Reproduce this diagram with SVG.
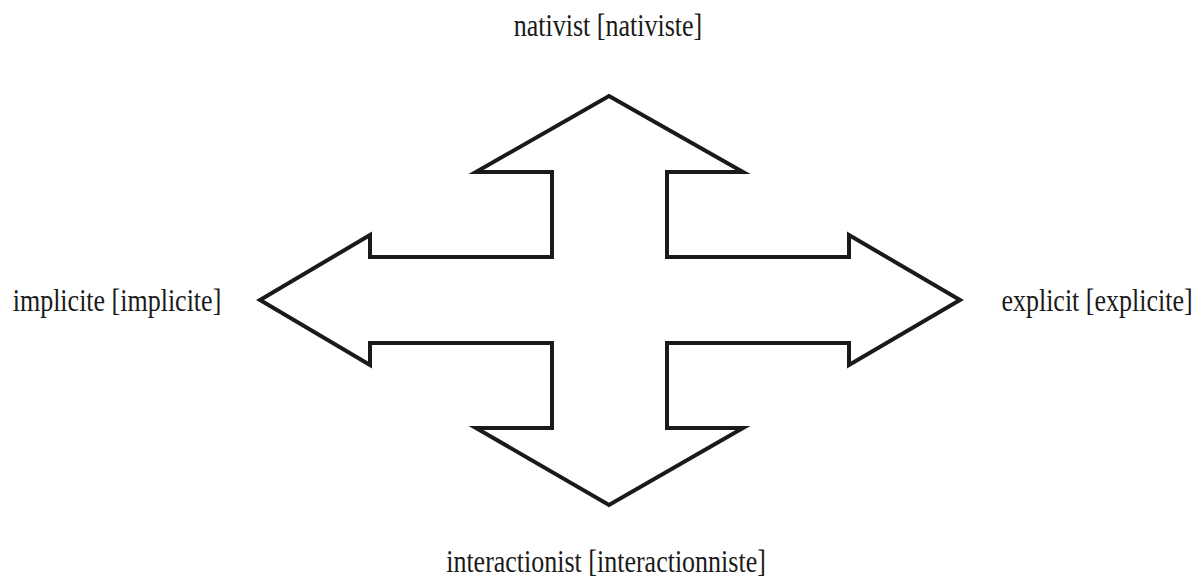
<svg xmlns="http://www.w3.org/2000/svg" width="1198" height="580" viewBox="0 0 1198 580">
<style>
.lbl{font-family:"Liberation Serif","Times New Roman",serif;font-size:26px;fill:#1a1a1a;text-anchor:middle}
.arrow{fill:#fff;stroke:#1a1a1a;stroke-width:4;stroke-linejoin:miter;stroke-miterlimit:10}
</style>
<rect width="1198" height="580" fill="#fff"/>
<g id="cross-arrow">
<polygon class="arrow" points="609,96 743,172 667,172 667,257 849,257 849,235 960,300 849,365 849,343 667,343 667,428 743,428 609,505 476,428 552,428 552,343 370,343 370,365 260,300 370,235 370,257 552,257 552,172 476,172"/>
</g>
<g id="label-top"><text class="lbl" transform="translate(608,36) scale(1,1.2)">nativist [nativiste]</text></g>
<g id="label-left"><text class="lbl" transform="translate(117,311) scale(1,1.2)">implicite [implicite]</text></g>
<g id="label-right"><text class="lbl" transform="translate(1097,311) scale(1,1.2)">explicit [explicite]</text></g>
<g id="label-bottom"><text class="lbl" transform="translate(606,572) scale(1,1.2)">interactionist [interactionniste]</text></g>
</svg>
